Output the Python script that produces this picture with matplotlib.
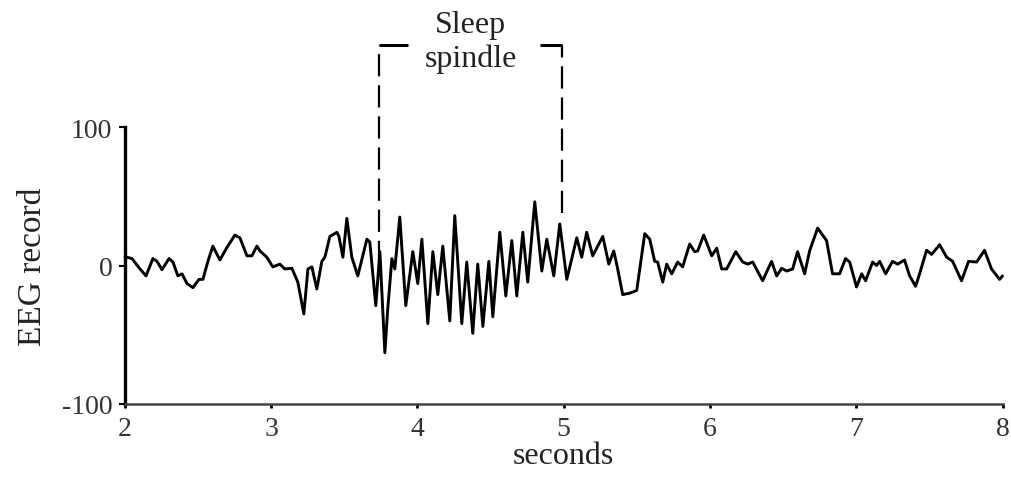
import matplotlib.pyplot as plt

plt.rcParams["font.family"] = ["Liberation Serif", "DejaVu Serif"]

# EEG trace (seconds, amplitude)
time_s = [
    2.000, 2.014, 2.048, 2.103, 2.144, 2.191, 2.219, 2.253, 2.301, 2.328, 2.362,
    2.390, 2.424, 2.465, 2.506, 2.533, 2.567, 2.601, 2.649, 2.697, 2.752, 2.786,
    2.834, 2.868, 2.902, 2.923, 2.970, 3.011, 3.059, 3.093, 3.141, 3.182, 3.223,
    3.251, 3.278, 3.312, 3.346, 3.367, 3.401, 3.449, 3.463, 3.490, 3.517, 3.551,
    3.592, 3.626, 3.654, 3.674, 3.715, 3.743, 3.777, 3.797, 3.825, 3.845, 3.879,
    3.920, 3.968, 4.002, 4.030, 4.071, 4.105, 4.139, 4.173, 4.221, 4.255, 4.303,
    4.337, 4.378, 4.412, 4.447, 4.488, 4.515, 4.563, 4.604, 4.645, 4.679, 4.720,
    4.754, 4.802, 4.850, 4.884, 4.932, 4.973, 5.021, 5.089, 5.123, 5.157, 5.198,
    5.267, 5.308, 5.342, 5.369, 5.403, 5.451, 5.499, 5.554, 5.588, 5.622, 5.642,
    5.677, 5.704, 5.738, 5.779, 5.813, 5.861, 5.895, 5.916, 5.957, 6.012, 6.046,
    6.080, 6.114, 6.176, 6.224, 6.258, 6.292, 6.360, 6.421, 6.456, 6.490, 6.524,
    6.565, 6.599, 6.647, 6.681, 6.736, 6.797, 6.838, 6.886, 6.927, 6.955, 7.002,
    7.037, 7.064, 7.112, 7.139, 7.160, 7.201, 7.248, 7.283, 7.330, 7.365, 7.406,
    7.433, 7.481, 7.515, 7.570, 7.618, 7.659, 7.720, 7.768, 7.823, 7.877, 7.925,
    7.980, 8.000,
]
eeg = [
    6, 6, 5, -2.5, -7.5, 5, 3, -3, 5, 2.5, -7.5,
    -6, -13, -16, -10, -10, 3, 14, 4, 13, 22, 20,
    7, 7, 14, 10.5, 6, -1, 1, -2.5, -2, -12, -35,
    -2.5, -1, -17, 3, 6, 21, 24, 21, 6, 34, 6,
    -7.5, 7, 19, 17, -29, 10, -63, -31, 5, -2.5, 35,
    -29, 10, -13, 19, -42, 10, -21, 14, -40, 36, -42,
    2.5, -49, 1, -44, 3, -37, 24, -22, 18, -22, 24,
    -12, 46, -4, 19, -7.5, 30, -10, 20, 6, 24, 7,
    21, 1, 10.5, -2.5, -21, -20, -18, 23, 19, 3, 2.5,
    -12, 1, -6, 2.5, -1, 15.5, 10, 10.5, 22, 7, 12.5,
    -2.5, -2.5, 10, 2.5, 1, 2.5, -11, 3, -7.5, -2, -4,
    -2.5, 10, -6, 10.5, 27, 18, -6, -6, 5, 2.5, -15.5,
    -6, -11, 2.5, 0, 3, -6, 3, 1, 4, -7.5, -15,
    -6, 11, 8, 15, 6, 3, -11, 3, 2.5, 11, -2.5,
    -10, -7.5,
]

spindle_start = 3.74
spindle_end = 4.985
x_ticks = [2, 3, 4, 5, 6, 7, 8]
y_ticks = [-100, 0, 100]

fig = plt.figure(figsize=(10.11, 4.85), dpi=100)
ax = fig.add_axes([0.1236, 0.165, 0.868, 0.571])

ax.plot(time_s, eeg, color="black", linewidth=2.1, solid_joinstyle="round",
        solid_capstyle="round", clip_on=False)

ax.set_xlim(2, 8)
ax.set_ylim(-100, 100)
ax.set_xticks(x_ticks)
ax.set_yticks(y_ticks)
ax.set_yticklabels([str(v) for v in y_ticks])

for side in ["top", "right"]:
    ax.spines[side].set_visible(False)
ax.spines["left"].set_linewidth(2.4)
ax.spines["left"].set_color("black")
ax.spines["bottom"].set_linewidth(1.8)
ax.spines["bottom"].set_color("#444444")

ax.tick_params(axis="y", direction="out", length=4, width=1.5, pad=5, labelsize=20,
               labelcolor="#333333")
ax.tick_params(axis="x", direction="out", length=3, width=2, pad=6, labelsize=20,
               labelcolor="#333333")

ax.set_xlabel("seconds", fontsize=23, labelpad=0, color="#222222")
ax.set_ylabel("EEG record", fontsize=24, labelpad=10, color="#222222")

# sleep spindle bracket
top_y = 159
hook = 0.195
dash = (0, (10, 4))
ax.plot([spindle_start, spindle_start], [2, top_y], color="black", lw=1.6,
        linestyle=dash, clip_on=False)
ax.plot([spindle_end, spindle_end], [38, top_y], color="black", lw=1.6,
        linestyle=dash, clip_on=False)
ax.plot([spindle_start, spindle_start + hook], [top_y, top_y], color="black", lw=2.2,
        clip_on=False, solid_capstyle="butt")
ax.plot([spindle_end - 0.15, spindle_end], [top_y, top_y], color="black", lw=2.2,
        clip_on=False, solid_capstyle="butt")
mid = (spindle_start + spindle_end) / 2
ax.text(mid, 174, "Sleep", ha="center", va="center", fontsize=23, color="#222222")
ax.text(mid, 150, "spindle", ha="center", va="center", fontsize=23, color="#222222")

plt.savefig("out.png", dpi=100)
plt.close()
